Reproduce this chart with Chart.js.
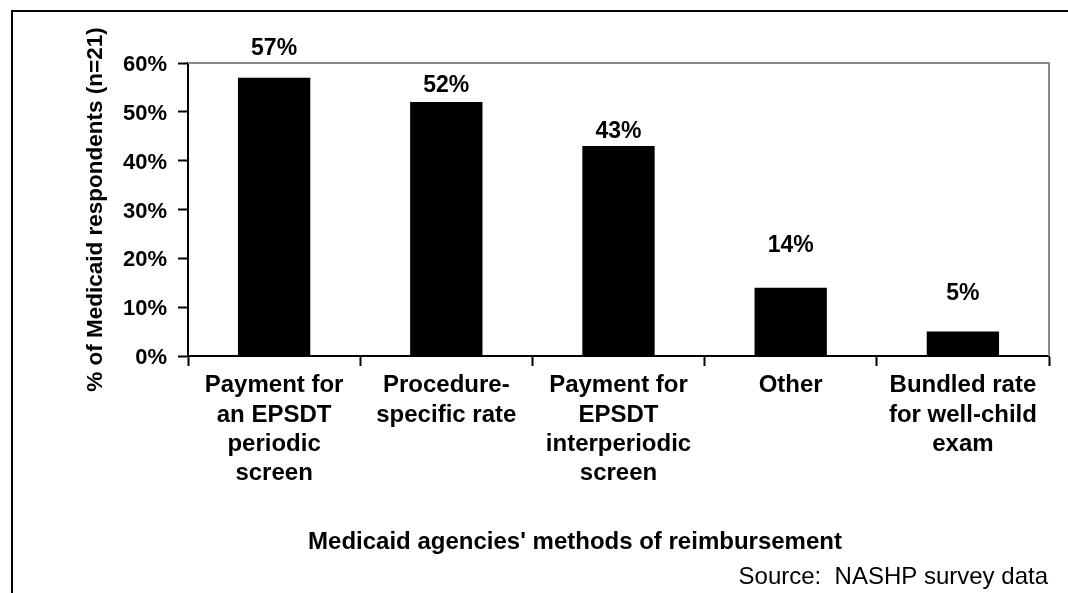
<!DOCTYPE html>
<html>
<head>
<meta charset="utf-8">
<script src="https://cdn.jsdelivr.net/npm/chart.js@4.4.1/dist/chart.umd.min.js"></script>
<style>
  html, body { margin: 0; padding: 0; background: #ffffff; }
  #wrap { width: 1068px; height: 593px; position: relative; }
</style>
</head>
<body>
<div id="wrap"><canvas id="c" width="1068" height="593"></canvas></div>
<script>
const categories = [
  ["Payment for", "an EPSDT", "periodic", "screen"],
  ["Procedure-", "specific rate"],
  ["Payment for", "EPSDT", "interperiodic", "screen"],
  ["Other"],
  ["Bundled rate", "for well-child", "exam"]
];
const values = [57, 52, 43, 14, 5];
const yTicks = [0, 10, 20, 30, 40, 50, 60];
const yTitle = "% of Medicaid respondents (n=21)";
const xTitle = "Medicaid agencies' methods of reimbursement";
const sourceNote = "Source:  NASHP survey data";

const FONT = "'Liberation Sans', Arial, Helvetica, sans-serif";

const framePlugin = {
  id: 'frame',
  beforeDraw(chart) {
    const ctx = chart.ctx;
    ctx.save();
    ctx.fillStyle = '#ffffff';
    ctx.fillRect(0, 0, chart.width, chart.height);
    ctx.fillStyle = '#000000';
    ctx.fillRect(11, 10, 2, chart.height - 10);
    ctx.fillRect(11, 10, chart.width - 11, 2);
    ctx.restore();
  },
  beforeDatasetsDraw(chart) {
    const a = chart.chartArea;
    const ctx = chart.ctx;
    ctx.save();
    ctx.strokeStyle = '#888888';
    ctx.lineWidth = 2;
    ctx.beginPath();
    ctx.moveTo(a.left, a.top);
    ctx.lineTo(a.right, a.top);
    ctx.lineTo(a.right, a.bottom);
    ctx.stroke();
    ctx.restore();
  },
  afterDraw(chart) {
    const ctx = chart.ctx;
    ctx.save();
    ctx.fillStyle = '#000000';
    ctx.textBaseline = 'alphabetic';
    ctx.font = "bold 24px " + FONT;
    ctx.textAlign = 'center';
    ctx.fillText(xTitle, 575, 549);
    ctx.font = "24px " + FONT;
    ctx.textAlign = 'right';
    ctx.fillText(sourceNote, 1048, 584);
    ctx.restore();
  }
};

const labelPlugin = {
  id: 'barLabels',
  afterDatasetsDraw(chart, args, opts) {
    const ctx = chart.ctx;
    const meta = chart.getDatasetMeta(0);
    ctx.save();
    ctx.fillStyle = '#000000';
    ctx.font = "bold 23px " + FONT;
    ctx.textAlign = 'center';
    ctx.textBaseline = 'middle';
    meta.data.forEach((bar, i) => {
      const gap = opts.gaps[i];
      ctx.fillText(values[i] + '%', bar.x, bar.y - gap);
    });
    ctx.restore();
  }
};

new Chart(document.getElementById('c'), {
  type: 'bar',
  data: {
    labels: categories,
    datasets: [{
      data: values,
      backgroundColor: '#000000',
      borderColor: '#000000',
      borderWidth: 0,
      categoryPercentage: 1.0,
      barPercentage: 0.42
    }]
  },
  options: {
    responsive: false,
    animation: false,
    devicePixelRatio: 1,
    layout: { padding: { left: 0, top: 63, right: 19, bottom: 0 } },
    plugins: {
      legend: { display: false },
      tooltip: { enabled: false },
      barLabels: { gaps: [29, 16, 14, 42, 38] }
    },
    scales: {
      x: {
        offset: true,
        grid: {
          offset: true,
          drawOnChartArea: false,
          drawTicks: true,
          tickLength: 10,
          tickColor: '#000000',
          tickWidth: 2,
          color: '#000000'
        },
        border: { color: '#000000', width: 2 },
        ticks: {
          color: '#000000',
          font: { family: FONT, size: 24, weight: 'bold', lineHeight: 1.22 },
          padding: 5,
          maxRotation: 0,
          autoSkip: false
        },
        afterFit(scale) { scale.height = 593 - 356; }
      },
      y: {
        min: 0,
        max: 60,
        afterBuildTicks(scale) { scale.ticks = yTicks.map(v => ({ value: v })); },
        grid: {
          drawOnChartArea: false,
          drawTicks: true,
          tickLength: 10,
          tickColor: '#000000',
          tickWidth: 2,
          color: '#000000'
        },
        border: { color: '#000000', width: 2 },
        ticks: {
          color: '#000000',
          font: { family: FONT, size: 22, weight: 'bold' },
          padding: 11,
          labelOffset: 2,
          callback: (v) => v + '%'
        },
        title: {
          display: true,
          text: yTitle,
          color: '#000000',
          font: { family: FONT, size: 22.5, weight: 'bold', lineHeight: 1.2 },
          padding: { top: 82, bottom: 0 }
        },
        afterFit(scale) { scale.width = 188; }
      }
    }
  },
  plugins: [framePlugin, labelPlugin]
});
</script>
</body>
</html>
